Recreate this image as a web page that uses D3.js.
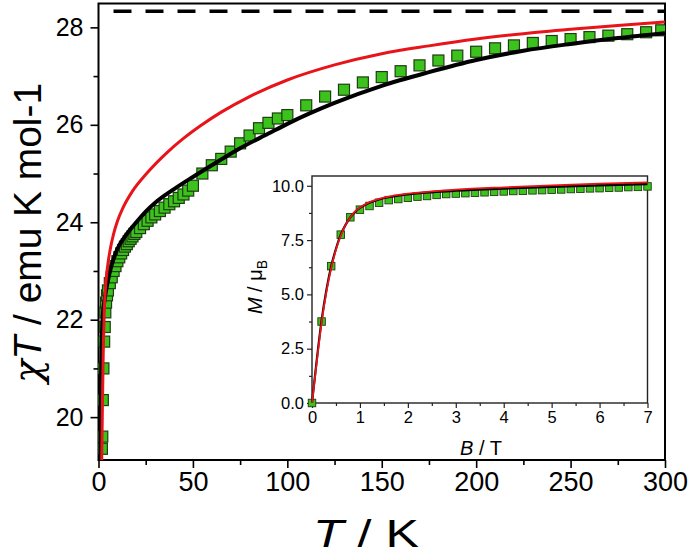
<!DOCTYPE html>
<html><head><meta charset="utf-8">
<script src="https://cdn.jsdelivr.net/npm/d3@7"></script>
<style>
body{margin:0;background:#fff;}
text{font-family:"Liberation Sans",Arial,sans-serif;fill:#000;}
</style></head><body>
<svg id="c" width="689" height="555"></svg>
<script>
// ---- main plot data (chiT vs T) ----
const expT  = [1.8,2.0,2.3,2.6,3.0,3.3,3.6,4,4.5,5,6,7,8,9,10,11,12,13,14,15,16,17,18,19,20,22,24,26,28,30,32.5,35,37.5,40,42.5,45,47.5,50,55,60,65,70,75,80,85,90,95,100,110,120,130,140,150,160,170,180,190,200,210,220,230,240,250,260,270,280,290,298];
const expChiT=[19.35,19.6,20.35,21.0,21.55,21.85,22.15,22.35,22.5,22.6,22.75,22.87,23.0,23.1,23.2,23.28,23.36,23.43,23.5,23.55,23.61,23.66,23.71,23.76,23.8,23.88,23.96,24.03,24.1,24.16,24.23,24.3,24.37,24.43,24.5,24.57,24.65,24.75,25.0,25.17,25.3,25.45,25.62,25.78,25.93,26.04,26.13,26.2,26.4,26.58,26.72,26.87,26.98,27.1,27.22,27.32,27.42,27.5,27.57,27.63,27.68,27.72,27.76,27.8,27.83,27.86,27.9,27.94];
const fitT    = [0.8,1.2,1.6,2,2.5,3,3.5,4,5,6,8,10,13,17,20,25,30,40,50,60,75,90,100,125,150,175,200,225,250,275,300];
const blackFit= [19.12,20.5,21.4,21.9,22.2,22.35,22.48,22.6,22.8,22.98,23.25,23.45,23.65,23.86,24.0,24.22,24.4,24.68,24.93,25.17,25.52,25.82,26.02,26.45,26.8,27.08,27.33,27.52,27.66,27.78,27.88];
const redT    = [1.7,2,2.5,3,4,5,6,8,10,13,18,25,36,45,54,65,80,100,125,150,175,200,225,250,275,300];
const redFit  = [19.12,20.0,21.3,22.1,22.8,23.15,23.4,23.76,24.02,24.3,24.64,24.98,25.42,25.72,25.98,26.26,26.58,26.92,27.23,27.46,27.62,27.76,27.87,27.96,28.04,28.11];
const limitChiT = 28.33;
const xTicks = [0,50,100,150,200,250,300];
const yTicks = [20,22,24,26,28];
// ---- inset data (M vs B) ----
const expB = [0,0.2,0.4,0.6,0.8,1.0,1.2,1.4,1.6,1.8,2.0,2.2,2.4,2.6,2.8,3.0,3.2,3.4,3.6,3.8,4.0,4.2,4.4,4.6,4.8,5.0,5.2,5.4,5.6,5.8,6.0,6.2,6.4,6.6,6.8,7.0];
const expM = [0,3.75,6.3,7.75,8.55,8.9,9.07,9.22,9.34,9.39,9.45,9.5,9.53,9.58,9.62,9.64,9.66,9.68,9.7,9.72,9.74,9.76,9.77,9.79,9.8,9.82,9.83,9.85,9.86,9.88,9.89,9.91,9.92,9.94,9.95,9.97];
const fitB   = [0,0.1,0.2,0.3,0.4,0.5,0.6,0.7,0.8,0.9,1.0,1.2,1.4,1.6,1.8,2.0,2.5,3,4,5,6,7];
const blackM = [0,2.0,3.8,5.2,6.3,7.1,7.75,8.2,8.55,8.8,8.98,9.22,9.37,9.47,9.54,9.6,9.7,9.77,9.87,9.95,10.02,10.08];
const redM   = [0,1.9,3.7,5.1,6.2,7.05,7.7,8.2,8.55,8.82,9.0,9.25,9.4,9.5,9.58,9.64,9.74,9.82,9.93,10.02,10.1,10.16];
const bTicks = [0,1,2,3,4,5,6,7];
const mTicks = [0,2.5,5,7.5,10];

const svg = d3.select("#c");
const green = "#3cc21c", greenStroke = "#1f3d12";

// main scales
const x = d3.scaleLinear().domain([0,300]).range([98.5,665]);
const y = d3.scaleLinear().domain([19.12,28.49]).range([460,3.5]);

const g = svg.append("g");
const xAxis = d3.axisBottom(x).tickValues(xTicks).tickSize(8).tickPadding(4).tickFormat(d3.format("d"));
const xMinor = d3.axisBottom(x).tickValues(d3.range(25,300,50)).tickSize(5).tickFormat("");
const yAxis = d3.axisLeft(y).tickValues(yTicks).tickSize(8).tickPadding(7).tickFormat(d3.format("d"));
const yMinor = d3.axisLeft(y).tickValues([21,23,25,27]).tickSize(5).tickFormat("");

function styleAxis(sel,fs){
  sel.select(".domain").remove();
  sel.selectAll("line").attr("stroke","#000").attr("stroke-width",1.6);
  sel.selectAll("text").attr("font-size",fs).attr("fill","#000");
}
g.append("g").attr("transform","translate(0,460)").call(xAxis).call(s=>styleAxis(s,27));
g.append("g").attr("transform","translate(0,460)").call(xMinor).call(s=>styleAxis(s,27));
g.append("g").attr("transform","translate(98.5,0)").call(yAxis).call(s=>styleAxis(s,25));
g.append("g").attr("transform","translate(98.5,0)").call(yMinor).call(s=>styleAxis(s,25));
g.append("rect").attr("x",x(0)).attr("y",y(28.49)).attr("width",x(300)-x(0)).attr("height",y(19.12)-y(28.49))
 .attr("fill","none").attr("stroke","#000").attr("stroke-width",2);

svg.append("clipPath").attr("id","mc").append("rect").attr("x",x(0)).attr("y",y(28.49)).attr("width",x(300)-x(0)).attr("height",y(19.12)-y(28.49));
const plot = svg.append("g").attr("clip-path","url(#mc)");

plot.append("line").attr("x1",x(0)+15).attr("x2",x(300)).attr("y1",y(limitChiT)).attr("y2",y(limitChiT))
 .attr("stroke","#000").attr("stroke-width",3.5).attr("stroke-dasharray","18,14");

const sq = 11;
plot.selectAll("rect.d").data(expT.map((t,i)=>[t,expChiT[i]])).enter().append("rect")
 .attr("x",d=>x(d[0])-sq/2).attr("y",d=>y(d[1])-sq/2).attr("width",sq).attr("height",sq)
 .attr("fill",green).attr("stroke",greenStroke).attr("stroke-width",1.2);

const line = d3.line().curve(d3.curveMonotoneX);
plot.append("path").attr("d",line(fitT.map((t,i)=>[x(t),y(blackFit[i])]))).attr("fill","none").attr("stroke","#000").attr("stroke-width",4);
plot.append("path").attr("d",line(redT.map((t,i)=>[x(t),y(redFit[i])]))).attr("fill","none").attr("stroke","#e8141a").attr("stroke-width",3);

// titles
const yt = svg.append("text").attr("transform","translate(41,233) rotate(-90)").attr("text-anchor","middle").attr("font-size",39)
 .attr("textLength",300).attr("lengthAdjust","spacingAndGlyphs");
yt.append("tspan").attr("font-family","DejaVu Serif").attr("font-style","italic").text("χ");
yt.append("tspan").attr("font-style","italic").text("T");
yt.append("tspan").text(" / emu K mol-1");
const xt = svg.append("text").attr("x",366).attr("y",547).attr("text-anchor","middle").attr("font-size",39)
 .attr("textLength",106).attr("lengthAdjust","spacingAndGlyphs");
xt.append("tspan").attr("font-style","italic").text("T");
xt.append("tspan").text(" / K");

// ---- inset ----
const ix = d3.scaleLinear().domain([0,7]).range([312,647.5]);
const iy = d3.scaleLinear().domain([0,10.45]).range([403,176]);
svg.append("rect").attr("x",ix(0)).attr("y",iy(10.45)).attr("width",ix(7)-ix(0)).attr("height",iy(0)-iy(10.45))
 .attr("fill","#fff").attr("stroke","#222").attr("stroke-width",1.4);
const ig = svg.append("g");
function styleI(sel){
  sel.select(".domain").remove();
  sel.selectAll("line").attr("stroke","#222").attr("stroke-width",1.2);
  sel.selectAll("text").attr("font-size",16.5).attr("fill","#111");
}
ig.append("g").attr("transform","translate(0,403)").call(d3.axisBottom(ix).tickValues(bTicks).tickSize(5).tickPadding(3).tickFormat(d3.format("d"))).call(styleI);
ig.append("g").attr("transform","translate(0,403)").call(d3.axisBottom(ix).tickValues(d3.range(0.5,7,1)).tickSize(3).tickFormat("")).call(styleI);
ig.append("g").attr("transform","translate(312,0)").call(d3.axisLeft(iy).tickValues(mTicks).tickSize(5).tickPadding(3).tickFormat(d3.format(".1f"))).call(styleI);
ig.append("g").attr("transform","translate(312,0)").call(d3.axisLeft(iy).tickValues([1.25,3.75,6.25,8.75]).tickSize(3).tickFormat("")).call(styleI);

const isq = 7.5;
svg.append("g").selectAll("rect").data(expB.map((b,i)=>[b,expM[i]])).enter().append("rect")
 .attr("x",d=>ix(d[0])-isq/2).attr("y",d=>iy(d[1])-isq/2).attr("width",isq).attr("height",isq)
 .attr("fill",green).attr("stroke",greenStroke).attr("stroke-width",0.9);
svg.append("path").attr("d",line(fitB.map((b,i)=>[ix(b),iy(blackM[i])]))).attr("fill","none").attr("stroke","#000").attr("stroke-width",2.2);
svg.append("path").attr("d",line(fitB.map((b,i)=>[ix(b),iy(redM[i])]))).attr("fill","none").attr("stroke","#e8141a").attr("stroke-width",1.8);

const bt = svg.append("text").attr("x",481).attr("y",455).attr("text-anchor","middle").attr("font-size",20);
bt.append("tspan").attr("font-style","italic").text("B");
bt.append("tspan").text(" / T");
const mt = svg.append("text").attr("transform","translate(262,287) rotate(-90)").attr("text-anchor","middle").attr("font-size",20);
mt.append("tspan").attr("font-style","italic").text("M");
mt.append("tspan").text(" / μ");
mt.append("tspan").attr("font-size",14).attr("dy",5).text("B");
</script></body></html>
